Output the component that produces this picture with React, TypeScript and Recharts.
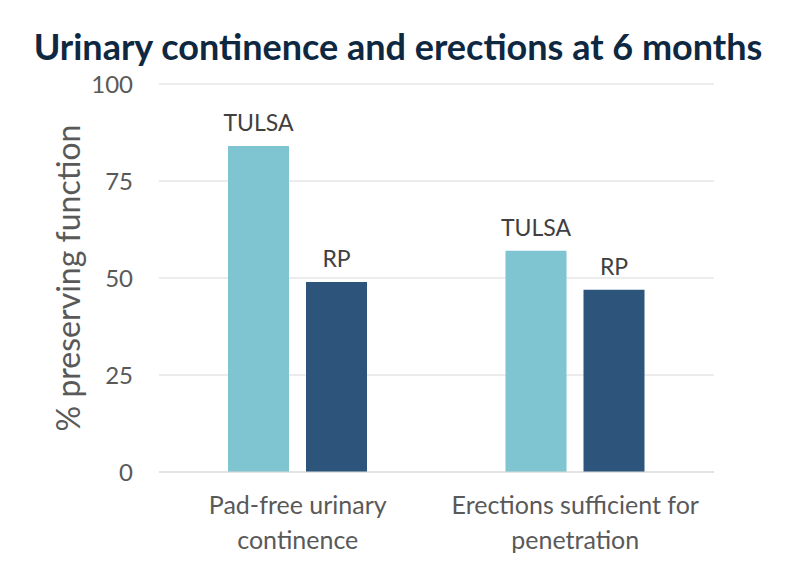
import { Bar, BarChart, CartesianGrid, LabelList, XAxis, YAxis } from "recharts";

const categories = ["Pad-free urinary\ncontinence", "Erections sufficient for\npenetration"];
const tulsaValues = [84, 57];
const rpValues = [49, 47];
const yTicks = [0, 25, 50, 75, 100];

const data = categories.map((category, i) => ({
  category,
  TULSA: tulsaValues[i],
  RP: rpValues[i],
}));

const FONT = "Lato";

function CategoryTick({ x, y, payload }: any) {
  const lines = String(payload.value).split("\n");
  return (
    <g transform={`translate(${x},${y})`}>
      {lines.map((line, i) => (
        <text
          key={i}
          x={0}
          y={0}
          dy={40 + i * 35}
          textAnchor="middle"
          fill="#595959"
          fontSize={25}
          fontFamily={FONT}
        >
          {line}
        </text>
      ))}
    </g>
  );
}

export default function App() {
  return (
    <div style={{ position: "absolute", left: 0, top: 0, width: 812, height: 578, background: "#fff" }}>
      <div
        style={{
          position: "absolute",
          left: 0,
          top: 24,
          width: 796,
          textAlign: "center",
          fontFamily: FONT,
          fontWeight: 700,
          fontSize: 36,
          color: "#0E2841",
          lineHeight: "44px",
        }}
      >
        Urinary continence and erections at 6 months
      </div>
      <BarChart
        width={812}
        height={578}
        data={data}
        margin={{ top: 84, right: 98, bottom: 0, left: 0 }}
        barGap={17}
        barSize={61}
      >
        <CartesianGrid vertical={false} stroke="#d9d9d9" strokeWidth={1.2} />
        <XAxis
          dataKey="category"
          axisLine={{ stroke: "#d9d9d9", strokeWidth: 1.2 }}
          tickLine={false}
          tickSize={0}
          height={106}
          interval={0}
          tick={<CategoryTick />}
        />
        <YAxis
          domain={[0, 100]}
          ticks={yTicks}
          axisLine={false}
          tickLine={false}
          tickSize={0}
          tickMargin={26}
          width={159}
          tick={{ fill: "#595959", fontSize: 24, fontFamily: FONT }}
          label={{
            value: "% preserving function",
            angle: -90,
            position: "center",
            dx: -11,
            fill: "#595959",
            fontSize: 32,
            fontFamily: FONT,
          }}
        />
        <Bar dataKey="TULSA" fill="#7EC4D1" isAnimationActive={false}>
          <LabelList
            position="top"
            offset={15}
            valueAccessor={() => "TULSA"}
            fill="#404040"
            fontSize={23}
            fontFamily={FONT}
          />
        </Bar>
        <Bar dataKey="RP" fill="#2D547B" isAnimationActive={false}>
          <LabelList
            position="top"
            offset={15}
            valueAccessor={() => "RP"}
            fill="#404040"
            fontSize={23}
            fontFamily={FONT}
          />
        </Bar>
      </BarChart>
    </div>
  );
}
